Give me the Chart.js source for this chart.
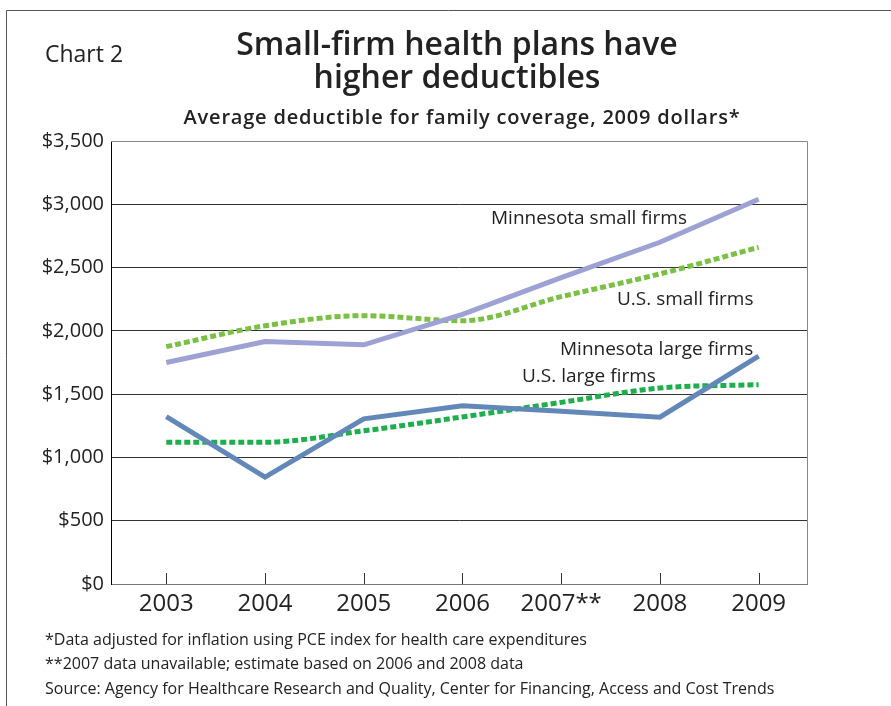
<!DOCTYPE html>
<html>
<head>
<meta charset="utf-8">
<script src="https://cdn.jsdelivr.net/npm/chart.js@4.4.1/dist/chart.umd.min.js"></script>
<style>
  html, body { margin: 0; padding: 0; background: #fff; }
  #wrap { position: relative; width: 891px; height: 706px; }
</style>
</head>
<body>
<div id="wrap"><canvas id="chartCanva" width="891" height="706"></canvas></div>
<script>
// data
const years = [2003, 2004, 2005, 2006, 2007, 2008, 2009];
const mnSmall = [1750, 1915, 1890, 2130, 2420, 2700, 3040];
const usSmall = [1875, 2040, 2120, 2080, 2270, 2450, 2660];
const mnLarge = [1322, 845, 1305, 1408, 1365, 1318, 1800];
const usLarge = [1120, 1120, 1210, 1320, 1435, 1548, 1575];
const yTicks = [0, 500, 1000, 1500, 2000, 2500, 3000, 3500];

const FONT = '"Open Sans", Lato, sans-serif';

function pts(arr) {
    return years.map((y, i) => ({ x: y, y: arr[i] }))
}

const data = {
    datasets: [
        { label: 'Minnesota small firms', data: pts(mnSmall), borderColor: '#9ea1d4', borderWidth: 5, tension: 0 },
        { label: 'U.S. small firms', data: pts(usSmall), borderColor: '#79c043', borderWidth: 5, borderDash: [6, 3], cubicInterpolationMode: 'monotone' },
        { label: 'Minnesota large firms', data: pts(mnLarge), borderColor: '#6288b9', borderWidth: 5, tension: 0 },
        { label: 'U.S. large firms', data: pts(usLarge), borderColor: '#1fae4c', borderWidth: 5, borderDash: [6, 3], cubicInterpolationMode: 'monotone' }
    ]
};

// labels next to the lines, titles, footnotes, frame
const decor = {
    id: 'decor',
    beforeDatasetsDraw(chart) {
        const ctx = chart.ctx, a = chart.chartArea, xs = chart.scales.x;
        ctx.save();
        // inner tick marks
        ctx.strokeStyle = '#333';
        ctx.lineWidth = 1;
        years.forEach(y => {
            const px = Math.round(xs.getPixelForValue(y)) + 0.5;
            ctx.beginPath();
            ctx.moveTo(px, a.bottom - 11);
            ctx.lineTo(px, a.bottom);
            ctx.stroke();
        });
        // top and right border
        ctx.strokeStyle = '#888';
        ctx.beginPath();
        ctx.moveTo(a.left, a.top + 0.5);
        ctx.lineTo(a.right + 0.5, a.top + 0.5);
        ctx.lineTo(a.right + 0.5, a.bottom);
        ctx.stroke();
        ctx.restore();
    },
    afterDraw(chart) {
        const ctx = chart.ctx;
        ctx.save();
        // frame
        ctx.strokeStyle = '#555';
        ctx.lineWidth = 1;
        ctx.beginPath();
        ctx.moveTo(891, 10.5);
        ctx.lineTo(6.5, 10.5);
        ctx.lineTo(6.5, 706);
        ctx.stroke();

        ctx.fillStyle = '#222';
        ctx.textBaseline = 'middle';
        ctx.textAlign = 'left';
        ctx.font = '23px ' + FONT;
        ctx.fillText('Chart 2', 45, 55);

        ctx.textAlign = 'center';
        ctx.font = '600 32px ' + FONT;
        ctx.fillText('Small-firm health plans have', 457, 46);
        ctx.fillText('higher deductibles', 457, 79);
        ctx.font = '600 20px ' + FONT;
        ctx.letterSpacing = '0.8px';
        ctx.fillText('Average deductible for family coverage, 2009 dollars*', 462, 118);
        ctx.letterSpacing = '0px';

        ctx.textAlign = 'left';
        ctx.font = '19px ' + FONT;
        ctx.fillText('Minnesota small firms', 491, 219);
        ctx.fillText('U.S. small firms', 617, 300);
        ctx.fillText('Minnesota large firms', 560, 350);
        ctx.fillText('U.S. large firms', 522, 377);

        ctx.font = '16px ' + FONT;
        ctx.fillText('*Data adjusted for inflation using PCE index for health care expenditures', 45, 640);
        ctx.fillText('**2007 data unavailable; estimate based on 2006 and 2008 data', 45, 664);
        ctx.fillText('Source: Agency for Healthcare Research and Quality, Center for Financing, Access and Cost Trends', 45, 689);
        ctx.restore();
    }
};

const config = {
    type: 'line',
    data: data,
    options: {
        responsive: false,
        animation: false,
        layout: { padding: { left: 0, top: 141, right: 84, bottom: 82 } },
        elements: { point: { radius: 0 }, line: { borderCapStyle: 'butt' } },
        plugins: { legend: { display: false }, tooltip: { enabled: false }, title: { display: false } },
        scales: {
            x: {
                type: 'linear',
                min: 2002.44,
                max: 2009.49,
                afterFit: s => { s.height = 40 },
                afterBuildTicks: s => { s.ticks = years.map(v => ({ value: v })) },
                grid: { display: false, drawTicks: false },
                border: { color: '#777', width: 1 },
                ticks: {
                    padding: 6,
                    color: '#222',
                    font: { family: FONT, size: 24 },
                    callback: v => v === 2007 ? '2007**' : String(v)
                }
            },
            y: {
                min: 0,
                max: 3500,
                afterFit: s => { s.width = 111 },
                afterBuildTicks: s => { s.ticks = yTicks.map(v => ({ value: v })) },
                grid: { color: '#333', lineWidth: 1, drawTicks: false },
                border: { color: '#000', width: 1 },
                ticks: {
                    padding: 7,
                    color: '#222',
                    font: { family: FONT, size: 20 },
                    callback: v => '$' + v.toLocaleString('en-US')
                }
            }
        }
    },
    plugins: [decor]
};

new Chart(document.getElementById('chartCanva'), config);
</script>
</body>
</html>
